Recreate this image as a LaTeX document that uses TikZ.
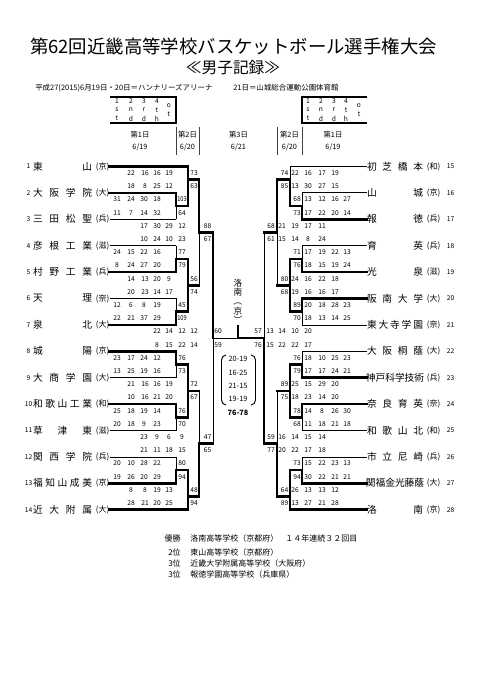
\documentclass[tikz,border=0pt]{standalone}
\usepackage{fontspec}
\setmainfont{Noto Sans CJK JP}
\usetikzlibrary{positioning}
\newcommand\ly[1]{166.5+13.2*(#1)}% y of bracket line n
\newcommand\sy[1]{173.1+13.2*(#1)}% y of score row k
\tikzset{
  advance/.style={line width=2pt,line cap=rect},
  beaten/.style={line width=0.6pt},
  tname/.style={inner sep=0pt,font=\fontsize{7.3}{8}\selectfont},
  tpref/.style={inner sep=0pt,font=\fontsize{6}{7}\selectfont},
  tnum/.style={inner sep=0pt,font=\fontsize{5}{6}\selectfont},
  score/.style={inner sep=0pt,font=\fontsize{5}{6}\selectfont},
  day/.style={inner sep=0pt,font=\fontsize{5.5}{6.5}\selectfont},
  legend/.style={inner sep=0pt,font=\fontsize{5}{6}\selectfont},
  result/.style={inner sep=0pt,font=\fontsize{6}{7}\selectfont},
}
\begin{document}
\begin{tikzpicture}[x=0.75pt,y=-0.75pt]
  \useasboundingbox (0,0) rectangle (481,680);
  \fill[white] (0,0) rectangle (481,680);

  % heading
  \node[font=\fontsize{13.8}{16}\selectfont] (title) at (233.5,47)
    {第62回近畿高等学校バスケットボール選手権大会};
  \node[font=\fontsize{11.8}{14}\selectfont] (subtitle) at (233,68) {≪男子記録≫};
  \node[inner sep=0pt,font=\fontsize{5.6}{7}\selectfont,anchor=west] (venueA)
    at (35,88) {平成27(2015)6月19日・20日＝ハンナリーズアリーナ};
  \node[inner sep=0pt,font=\fontsize{5.6}{7}\selectfont,anchor=west] (venueB)
    at (233,88) {21日＝山城総合運動公園体育館};

  % quarter legend boxes
  \draw[line width=1.5pt] (110,97) -- (176,97) -- (176,123) -- (110,123);
  \draw[line width=1.5pt] (367,97) -- (302,97) -- (302,123) -- (367,123);
  \foreach \x/\p/\q/\r in {117/1/s/t,131/2/n/d,144/3/r/d,157/4/t/h,
                           308/1/s/t,321/2/n/d,334/3/r/d,346/4/t/h}{%
    \node[legend] (lg\x a) at (\x,101.5) {\p};
    \node[legend] (lg\x b) at (\x,110) {\q};
    \node[legend] (lg\x c) at (\x,118.5) {\r};
  }
  \foreach \x in {169,359}{%
    \node[legend] (ot\x a) at (\x,106) {o};
    \node[legend] (ot\x b) at (\x,114.3) {t};
  }

  % days
  \foreach \x/\d/\t [count=\j] in {140/1/19,187.5/2/20,238.5/3/21,289.5/2/20,333/1/19}{%
    \node[day] (day\j) at (\x,135) {第\d{}日};
    \node[day] (date\j) at (\x,147) {6/\t};
  }
  \foreach \x in {176,199,277,302}
    \draw[line width=0.6pt,black!75] (\x,127) -- (\x,155);

  % left teams
  \foreach \i/\nm/\pf/\st/\xe in {
      1/東\hfill 山/京/advance/188,
      2/大\hfill 阪\hfill 学\hfill 院/大/advance/176,
      3/三\hfill 田\hfill 松\hfill 聖/兵/beaten/176,
      4/彦\hfill 根\hfill 工\hfill 業/滋/beaten/176,
      5/村\hfill 野\hfill 工\hfill 業/兵/advance/176,
      6/天\hfill 理/奈/beaten/176,
      7/泉\hfill 北/大/advance/176,
      8/城\hfill 陽/京/advance/176,
      9/大\hfill 商\hfill 学\hfill 園/大/beaten/176,
      10/和\hfill 歌\hfill 山\hfill 工\hfill 業/和/advance/176,
      11/草\hfill 津\hfill 東/滋/beaten/176,
      12/関\hfill 西\hfill 学\hfill 院/兵/beaten/176,
      13/福\hfill 知\hfill 山\hfill 成\hfill 美/京/advance/176,
      14/近\hfill 大\hfill 附\hfill 属/大/advance/188}{%
    \node[tname] (tl\i) at (62.5,{\ly{2*\i-2}}) {\makebox[44.25pt]{\nm}};
    \node[tpref,right=2.5pt of tl\i] (pl\i) {(\pf)};
    \node[tnum] (nl\i) at (28.5,{\ly{2*\i-2}}) {\i};
    \draw[\st] (pl\i.east) -- (\xe,{\ly{2*\i-2}});
  }

  % right teams
  \foreach \i/\nm/\pf/\st/\xe in {
      15/初\hfill 芝\hfill 橋\hfill 本/和/beaten/290,
      16/山\hfill 城/京/beaten/302,
      17/報\hfill 徳/兵/advance/302,
      18/育\hfill 英/兵/beaten/302,
      19/光\hfill 泉/滋/advance/302,
      20/阪\hfill 南\hfill 大\hfill 学/大/advance/302,
      21/東\hfill 大\hfill 寺\hfill 学\hfill 園/奈/beaten/302,
      22/大\hfill 阪\hfill 桐\hfill 蔭/大/beaten/302,
      23/神\hfill 戸\hfill 科\hfill 学\hfill 技\hfill 術/兵/advance/302,
      24/奈\hfill 良\hfill 育\hfill 英/奈/advance/302,
      25/和\hfill 歌\hfill 山\hfill 北/和/beaten/302,
      26/市\hfill 立\hfill 尼\hfill 崎/兵/beaten/302,
      27/関\hfill 福\hfill 金\hfill 光\hfill 藤\hfill 蔭/大/advance/302,
      28/洛\hfill 南/京/advance/290}{%
    \node[tname] (tr\i) at (395,{\ly{2*\i-30}}) {\makebox[42pt]{\nm}};
    \node[tpref,right=2.5pt of tr\i] (pr\i) {(\pf)};
    \node[tnum,right=4.5pt of pr\i] (nr\i) {\i};
    \draw[\st] (tr\i.west) -- (\xe,{\ly{2*\i-30}});
  }

  % bracket: vertical x, exit x, top entry, exit, bottom entry, styles
  \foreach \x/\xo/\a/\e/\b/\sa/\sb in {
      176/188/2/3/4/advance/beaten,   176/188/6/7/8/beaten/advance,
      176/188/10/11/12/beaten/advance,176/188/14/15/16/advance/beaten,
      176/188/18/19/20/advance/beaten,176/188/22/23/24/beaten/advance,
      188/199/0/1/3/advance/advance,  188/199/7/9/11/advance/advance,
      188/199/15/17/19/advance/advance,188/199/23/25/26/advance/advance,
      199/213/1/5/9/advance/beaten,   199/213/17/21/25/beaten/advance,
      213/238/5/13/21/advance/beaten,
      302/290/2/3/4/beaten/advance,   302/290/6/7/8/beaten/advance,
      302/290/10/11/12/advance/beaten,302/290/14/15/16/beaten/advance,
      302/290/18/19/20/advance/beaten,302/290/22/23/24/beaten/advance,
      290/277/0/1/3/beaten/advance,   290/277/7/9/11/advance/advance,
      290/277/15/17/19/advance/advance,290/277/23/25/26/advance/advance,
      277/264/1/5/9/advance/beaten,   277/264/17/21/25/beaten/advance,
      264/238/5/13/21/beaten/advance}{%
    \draw[\sa] (\x,{\ly{\a}}) -- (\x,{\ly{\e}});
    \draw[\sb] (\x,{\ly{\e}}) -- (\x,{\ly{\b}});
    \ifnum\xo=238 \else
      \draw[advance] (\x,{\ly{\e}}) -- (\xo,{\ly{\e}});
    \fi
  }
  % final: only the champion's half is bold
  \draw[beaten] (213,{\ly{13}}) -- (238,{\ly{13}});
  \draw[advance] (238,{\ly{13}}) -- (264,{\ly{13}});
  \coordinate (crown) at (238,326);
  \draw[advance] (crown) -- (238,{\ly{13}});

  % champion
  \foreach \c/\y [count=\j] in {洛/283.5,南/292.5,︵/304,京/311.5,︶/320}
    \node[inner sep=0pt,font=\fontsize{6.5}{7}\selectfont] (champ\j) at (238,\y) {\c};

  % scores: row, four quarters, total, x of quarters, x of total
  \foreach \k/\qa/\qb/\qc/\qd/\tot/\xa/\xb/\xc/\xd/\xt in {
      2/31/24/30/18/\scalebox{0.85}[1]{103}/117/131/144/157/182,
      3/11/7/14/32/64/117/131/144/157/182,
      6/24/15/22/16/77/117/131/144/157/182,
      7/8/24/27/20/79/117/131/144/157/182,
      10/12/6/8/19/45/117/131/144/157/182,
      11/22/21/37/29/\scalebox{0.85}[1]{109}/117/131/144/157/182,
      14/23/17/24/12/76/117/131/144/157/182,
      15/13/25/19/16/73/117/131/144/157/182,
      18/25/18/19/14/76/117/131/144/157/182,
      19/20/18/9/23/70/117/131/144/157/182,
      22/20/10/28/22/80/117/131/144/157/182,
      23/19/26/20/29/94/117/131/144/157/182,
      0/22/16/16/19/73/131/145/157/169/194,
      1/18/8/25/12/63/131/145/157/169/194,
      8/14/13/20/9/56/131/145/157/169/194,
      9/20/23/14/17/74/131/145/157/169/194,
      16/21/16/16/19/72/131/145/157/169/194,
      17/10/16/21/20/67/131/145/157/169/194,
      24/8/8/19/13/48/131/145/157/169/194,
      25/28/21/20/25/94/131/145/157/169/194,
      4/17/30/29/12/88/144/157/169/182/207.5,
      5/10/24/10/23/67/144/157/169/182/207.5,
      20/23/9/6/9/47/144/157/169/182/207.5,
      21/21/11/18/15/65/144/157/169/182/207.5,
      12/22/14/12/12/60/157/169/182/194/218,
      13/8/15/22/14/59/157/169/182/194/218,
      2/13/12/16/27/68/308/322/335/347/297,
      3/17/22/20/14/73/308/322/335/347/297,
      6/17/19/22/13/71/308/322/335/347/297,
      7/18/15/19/24/76/308/322/335/347/297,
      10/20/18/28/23/89/308/322/335/347/297,
      11/18/13/14/25/70/308/322/335/347/297,
      14/18/10/25/23/76/308/322/335/347/297,
      15/17/17/24/21/79/308/322/335/347/297,
      18/14/8/26/30/78/308/322/335/347/297,
      19/11/18/21/18/68/308/322/335/347/297,
      22/15/22/23/13/73/308/322/335/347/297,
      23/30/22/21/21/94/308/322/335/347/297,
      0/22/16/17/19/74/295/308/322/335/284.5,
      1/13/30/27/15/85/295/308/322/335/284.5,
      8/24/16/22/18/80/295/308/322/335/284.5,
      9/19/16/16/17/68/295/308/322/335/284.5,
      16/25/15/29/20/89/295/308/322/335/284.5,
      17/18/23/14/20/75/295/308/322/335/284.5,
      24/26/13/13/12/64/295/308/322/335/284.5,
      25/13/27/21/28/89/295/308/322/335/284.5,
      4/21/19/17/11/68/282/295/308/322/271,
      5/15/14/8/24/61/282/295/308/322/271,
      20/16/14/15/14/59/282/295/308/322/271,
      21/20/22/17/18/77/282/295/308/322/271,
      12/13/14/10/20/57/270/282/295/308/258,
      13/15/22/22/17/76/270/282/295/308/258}{%
    \node[score] (q\k-\xa a) at (\xa,{\sy{\k}}) {\qa};
    \node[score] (q\k-\xa b) at (\xb,{\sy{\k}}) {\qb};
    \node[score] (q\k-\xa c) at (\xc,{\sy{\k}}) {\qc};
    \node[score] (q\k-\xa d) at (\xd,{\sy{\k}}) {\qd};
    \node[score] (t\k-\xt) at (\xt,{\sy{\k}}) {\tot};
  }

  % final
  \foreach \s/\y [count=\j] in {20-19/359,16-25/372.5,21-15/385.5,19-19/398.5}
    \node[inner sep=0pt,font=\fontsize{5.5}{6.5}\selectfont] (set\j) at (238,\y) {\s};
  \node[inner sep=0pt,font=\fontsize{5.5}{6.5}\selectfont\bfseries] (final) at (238,412.5) {76-78};
  \draw[line width=0.7pt] (226,355) to[out=180,in=90] (221.5,360) -- (221.5,400)
    to[out=-90,in=180] (226,405);
  \draw[line width=0.7pt] (251,355) to[out=0,in=90] (255.5,360) -- (255.5,400)
    to[out=-90,in=0] (251,405);

  % standings
  \foreach \y/\rk/\nm [count=\j] in {538.5/優勝/洛南高等学校（京都府）,
      552/2位/東山高等学校（京都府）,563.5/3位/近畿大学附属高等学校（大阪府）,
      574.5/3位/報徳学園高等学校（兵庫県）}{%
    \node[result,anchor=east] (rank\j) at (181,\y) {\rk};
    \node[result,anchor=west] (school\j) at (190,\y) {\nm};
  }
  \node[result,anchor=west] (streak) at (285,538.5) {１４年連続３２回目};
\end{tikzpicture}
\end{document}
